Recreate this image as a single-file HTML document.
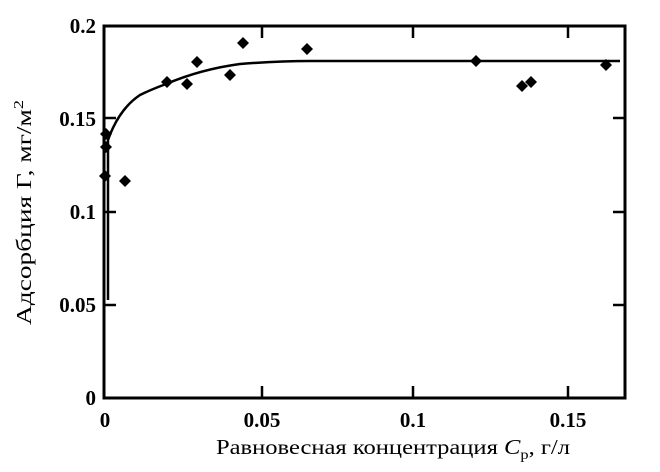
<!DOCTYPE html>
<html><head><meta charset="utf-8"><style>body{margin:0;background:#fff}</style></head><body>
<svg width="660" height="467" viewBox="0 0 660 467" xmlns="http://www.w3.org/2000/svg" font-family="Liberation Serif, serif" font-size="21" font-weight="bold">
<rect x="0" y="0" width="660" height="467" fill="#fff"/>
<rect x="104" y="26" width="521" height="372" fill="none" stroke="#000" stroke-width="3"/>
<g stroke="#000" stroke-width="2.5">
<line x1="104" y1="118" x2="116" y2="118"/><line x1="104" y1="212" x2="116" y2="212"/><line x1="104" y1="305" x2="116" y2="305"/>
<line x1="625" y1="118" x2="613" y2="118"/><line x1="625" y1="212" x2="613" y2="212"/><line x1="625" y1="305" x2="613" y2="305"/>
<line x1="262" y1="398" x2="262" y2="386"/><line x1="413" y1="398" x2="413" y2="386"/><line x1="568" y1="398" x2="568" y2="386"/>
<line x1="262" y1="26" x2="262" y2="38"/><line x1="413" y1="26" x2="413" y2="38"/><line x1="568" y1="26" x2="568" y2="38"/>
</g>
<path d="M104,398 L104,300 M108,300 L108,140 C115,120 125,105 140,95 C150,90 158,87 166,84 C185,76 210,68 240,64 C265,62 285,61 310,61 L620,61" fill="none" stroke="#000" stroke-width="2.5"/>
<g fill="#000">
<path d="M105,170l6,6l-6,6l-6,-6z"/><path d="M106,141l6,6l-6,6l-6,-6z"/><path d="M106,128l6,6l-6,6l-6,-6z"/>
<path d="M125,175l6,6l-6,6l-6,-6z"/><path d="M167,76l6,6l-6,6l-6,-6z"/><path d="M187,78l6,6l-6,6l-6,-6z"/>
<path d="M197,56l6,6l-6,6l-6,-6z"/><path d="M230,69l6,6l-6,6l-6,-6z"/><path d="M243,37l6,6l-6,6l-6,-6z"/>
<path d="M307,43l6,6l-6,6l-6,-6z"/><path d="M476,55l6,6l-6,6l-6,-6z"/><path d="M522,80l6,6l-6,6l-6,-6z"/>
<path d="M531,76l6,6l-6,6l-6,-6z"/><path d="M606,59l6,6l-6,6l-6,-6z"/>
</g>
<g text-anchor="end">
<text x="96" y="33">0.2</text><text x="96" y="126">0.15</text><text x="96" y="219">0.1</text><text x="96" y="312">0.05</text><text x="96" y="405">0</text>
</g>
<g text-anchor="middle">
<text x="105" y="427">0</text><text x="262" y="427">0.05</text><text x="413" y="427">0.1</text><text x="568" y="427">0.15</text>
</g>
<text x="216" y="454" font-size="21" font-weight="normal" textLength="354" lengthAdjust="spacingAndGlyphs">Равновесная концентрация <tspan font-style="italic">C</tspan><tspan font-size="14" dy="5">р</tspan><tspan dy="-5">, г/л</tspan></text>
<text transform="translate(31,325) rotate(-90)" font-size="21" font-weight="normal" textLength="225" lengthAdjust="spacingAndGlyphs">Адсорбция Г, мг/м<tspan font-size="14" dy="-8">2</tspan></text>
</svg>
</body></html>
